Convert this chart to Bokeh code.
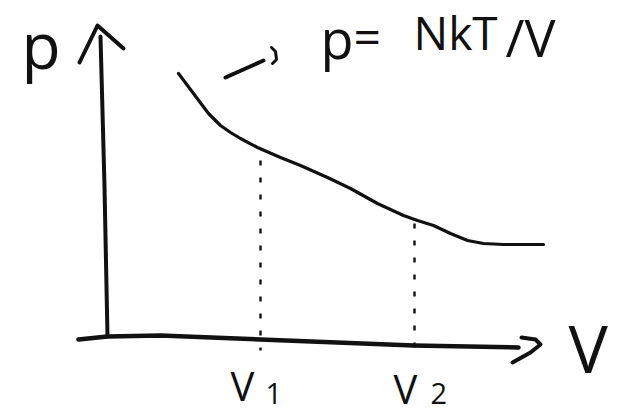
from bokeh.plotting import figure
from bokeh.models import Range1d
from bokeh.core.properties import value
from bokeh.embed import file_html
from bokeh.resources import INLINE

# Isotherm p = NkT/V sketched as a falling curve (V, p in sketch units, origin at the axes' corner)
curve_V = [71, 86, 101, 113, 123, 133, 150, 173, 193, 220, 243, 270, 296, 310, 326, 343, 360, 376, 396, 423, 436]
curve_p = [263, 243, 223, 211, 204, 198, 189, 179, 171, 159, 148, 133, 121, 116, 111, 103, 96, 93, 92, 92, 92]

# Marked volumes and the pressure at each
V_marks = [153, 307]
p_marks = [179, 116]
mark_labels = ["1", "2"]

# Hand-drawn axes (slightly wobbly strokes)
y_axis_V = [0, -3, -7]
y_axis_p = [0, 150, 300]
x_axis_V = [-29, 0, 53, 153, 306, 411]
x_axis_p = [-3, 0, 1, -3, -9, -11]

INK = "#111111"
FONT = value("Open Sans")


def label(fig, x, top, txt, size):
    # place a text by the top of its box
    fig.text(x=[x], y=[top], text=[txt], text_font=FONT,
             text_font_size=f"{size}px", text_color=INK,
             text_baseline="top", text_align="left")


p = figure(width=619, height=416, output_backend="svg", toolbar_location=None,
           x_range=Range1d(-107, 512), y_range=Range1d(-80, 336),
           min_border=0, outline_line_color=None, background_fill_color="white",
           border_fill_color="white")
p.axis.visible = False
p.grid.visible = False

# axes
p.line(y_axis_V, y_axis_p, line_width=4, line_color=INK, line_cap="round", line_join="round")
p.line(x_axis_V, x_axis_p, line_width=4.5, line_color=INK, line_cap="round", line_join="round")
# arrowheads
p.line([-28, -10, 16], [274, 311, 288], line_width=4, line_color=INK, line_cap="round", line_join="round")
p.line([414, 428, 433, 423, 405], [-1, -3, -8, -16, -26], line_width=4, line_color=INK,
       line_cap="round", line_join="round")

# isotherm
p.line(curve_V, curve_p, line_width=3.2, line_color=INK, line_cap="round", line_join="round")

# dashed drop lines at V1 and V2
for v, pm in zip(V_marks, p_marks):
    p.line([v, v], [pm - 3, -14], line_width=2.4, line_color=INK, line_dash="5 12")

# pointer arrow to the formula
p.line([118, 156], [259, 276], line_width=4, line_color=INK, line_cap="round")
p.line([164, 168, 169, 165], [289, 285, 277, 273], line_width=3, line_color=INK, line_cap="round")

# axis labels
label(p, -86, 336, "p", 64)
label(p, 461, 34.5, "V", 66)

# formula
label(p, 213, 336, "p", 54)
label(p, 246, 334, "=", 48)
label(p, 306, 336, "NkT", 46)
label(p, 398, 336, "/V", 52)

# V1, V2 tick labels
for v, dx_v, top_v, dx_s, lab in zip(V_marks, [-30, -21], [-21.8, -24.8], [5, 16], mark_labels):
    label(p, v + dx_v, top_v, "V", 40)
    label(p, v + dx_s, -46, lab, 29)

open("out.html", "w").write(file_html(p, INLINE))
